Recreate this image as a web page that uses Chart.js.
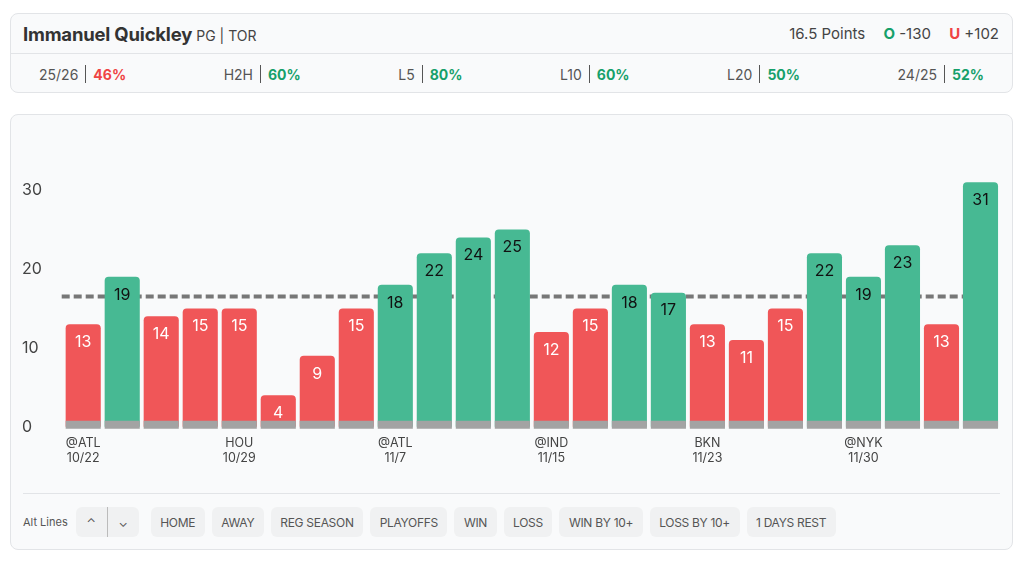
<!DOCTYPE html>
<html>
<head>
<meta charset="utf-8">
<script src="https://cdn.jsdelivr.net/npm/chart.js@4.4.1/dist/chart.umd.min.js"></script>
<style>
  body { margin: 0; background: #fff; font-family: Inter, "Noto Sans", sans-serif; color: #333; }
  .card { position: absolute; background: #f9fafb; border: 1px solid #e2e4e7; border-radius: 8px; box-sizing: border-box; }
  #top { left: 10px; top: 13px; width: 1003px; height: 80px; }
  #head { height: 39px; border-bottom: 1px solid #e2e4e7; display: flex; align-items: center; justify-content: space-between; padding: 0 13px 0 12px; }
  #name { font-size: 18.5px; font-weight: 700; color: #333; letter-spacing: -0.2px; }
  #name span { font-size: 14px; font-weight: 400; color: #444; letter-spacing: 0; }
  #linea { font-size: 15px; color: #444; }
  #linea b { margin-left: 14px; }
  #stats { height: 40px; display: flex; align-items: center; justify-content: space-between; padding: 0 28px 0 28px; font-size: 14px; }
  .st { display: flex; align-items: center; color: #555; }
  .st i { display: inline-block; width: 1px; height: 18px; background: #555; margin: 0 7px; }
  .st b { font-weight: 700; }
  .rojo { color: #ef4444; }
  .verde { color: #16a06a; }
  #graf { left: 10px; top: 114px; width: 1003px; height: 436px; }
  #lienzo { position: absolute; left: 8px; top: 20px; width: 994px; height: 350px; }
  #sep { position: absolute; left: 12px; right: 12px; top: 378px; height: 1px; background: #e2e4e7; }
  #botones { position: absolute; left: 12px; top: 392px; display: flex; align-items: center; font-size: 11px; color: #555; }
  .btn { background: #f0f1f2; border-radius: 6px; height: 30px; display: flex; align-items: center; padding: 0 9.5px; margin-right: 7px; font-size: 12px; color: #555; letter-spacing: -0.3px; }
  #flechas { display: flex; margin: 0 12px 0 8px; background: #f0f1f2; border-radius: 6px; height: 30px; }
  #flechas div { width: 31px; display: flex; align-items: center; justify-content: center; font-size: 12px; }
  #flechas div:first-child { border-right: 1px solid #bbb; }
</style>
</head>
<body>
<div class="card" id="top">
  <div id="head">
    <div id="name">Immanuel Quickley <span>PG | TOR</span></div>
    <div id="linea">16.5 Points <b class="verde">O</b> -130 <b class="rojo">U</b> +102</div>
  </div>
  <div id="stats"></div>
</div>
<div class="card" id="graf">
  <div id="lienzo"><canvas id="miGrafica"></canvas></div>
  <div id="sep"></div>
  <div id="botones"></div>
</div>
<script>
// Datos del gráfico
const partidos = ['@ATL','','','','HOU','','','','@ATL','','','','@IND','','','','BKN','','','','@NYK','','',''];
const fechas = ['10/22','','','','10/29','','','','11/7','','','','11/15','','','','11/23','','','','11/30','','',''];
const puntos = [13, 19, 14, 15, 15, 4, 9, 15, 18, 22, 24, 25, 12, 15, 18, 17, 13, 11, 15, 22, 19, 23, 13, 31];
const linea = 16.5;
const ticksY = [0, 10, 20, 30];
const baseGris = puntos.map(() => [-0.25, 0.75]);

const etiquetasStats = ['25/26', 'H2H', 'L5', 'L10', 'L20', '24/25'];
const valoresStats = [46, 60, 80, 60, 50, 52];
const filtros = ['HOME', 'AWAY', 'REG SEASON', 'PLAYOFFS', 'WIN', 'LOSS', 'WIN BY 10+', 'LOSS BY 10+', '1 DAYS REST'];

const ROJO = '#f05658';
const VERDE = '#47b993';

// Fila de estadisticas
const cajaStats = document.getElementById('stats');
etiquetasStats.forEach((et, i) => {
    const v = valoresStats[i];
    const clase = v >= 50 ? 'verde' : 'rojo';
    cajaStats.innerHTML += `<div class="st">${et}<i></i><b class="${clase}">${v}%</b></div>`;
});

// Botones de abajo
const cajaBotones = document.getElementById('botones');
cajaBotones.innerHTML = 'Alt Lines<div id="flechas"><div>&#8963;</div><div>&#8964;</div></div>';
filtros.forEach(f => { cajaBotones.innerHTML += `<div class="btn">${f}</div>`; });

// Linea punteada detras de las barras
const pluginLinea = {
    id: 'lineaPuntos',
    beforeDatasetsDraw(chart) {
        const { ctx, chartArea, scales } = chart;
        const y = scales.y.getPixelForValue(linea);
        ctx.save();
        ctx.strokeStyle = '#777';
        ctx.lineWidth = 4;
        ctx.setLineDash([8, 4]);
        ctx.beginPath();
        ctx.moveTo(chartArea.left - 2, y);
        ctx.lineTo(chartArea.right - 2, y);
        ctx.stroke();
        ctx.restore();
    }
};

// Numeros dentro de las barras
const pluginNumeros = {
    id: 'numeros',
    afterDatasetsDraw(chart) {
        const { ctx } = chart;
        const meta = chart.getDatasetMeta(1);
        ctx.save();
        ctx.font = '16px Inter, "Noto Sans", sans-serif';
        ctx.textAlign = 'center';
        ctx.textBaseline = 'middle';
        meta.data.forEach((barra, i) => {
            ctx.fillStyle = puntos[i] > linea ? '#111' : '#fff';
            ctx.fillText(String(puntos[i]), barra.x, barra.y + 18);
        });
        ctx.restore();
    }
};

graficaPuntos = new Chart(document.getElementById('miGrafica').getContext('2d'), {
    type: 'bar',
    data: {
        labels: partidos.map((p, i) => [p, fechas[i]]),
        datasets: [{
            data: baseGris,
            backgroundColor: '#a3a3a3',
            grouped: false,
            order: 0,
            barPercentage: 1,
            categoryPercentage: 0.9
        }, {
            data: puntos,
            backgroundColor: puntos.map(v => v > linea ? VERDE : ROJO),
            borderRadius: { topLeft: 4, topRight: 4, bottomLeft: 0, bottomRight: 0 },
            borderSkipped: 'bottom',
            grouped: false,
            order: 1,
            barPercentage: 1,
            categoryPercentage: 0.9
        }]
    },
    options: {
        responsive: true,
        maintainAspectRatio: false,
        animation: false,
        layout: { padding: { left: 3, right: 13, top: 6.6, bottom: 0 } },
        plugins: { legend: { display: false }, tooltip: { enabled: false } },
        scales: {
            x: {
                grid: { display: false, drawTicks: false },
                border: { display: false },
                afterFit: eje => { eje.height = 55.9; },
                ticks: { color: '#444', font: { size: 12.5, family: 'Inter' }, autoSkip: false, maxRotation: 0, padding: 7 }
            },
            y: {
                min: -0.3,
                max: 34.5,
                afterBuildTicks: eje => { eje.ticks = ticksY.map(v => ({ value: v })); },
                afterFit: eje => { eje.width = 41.7; },
                grid: { display: false, drawTicks: false },
                border: { display: false },
                ticks: { color: '#444', font: { size: 16, family: 'Inter' }, crossAlign: 'far', padding: 10 }
            }
        }
    },
    plugins: [pluginLinea, pluginNumeros]
});
</script>
</body>
</html>
